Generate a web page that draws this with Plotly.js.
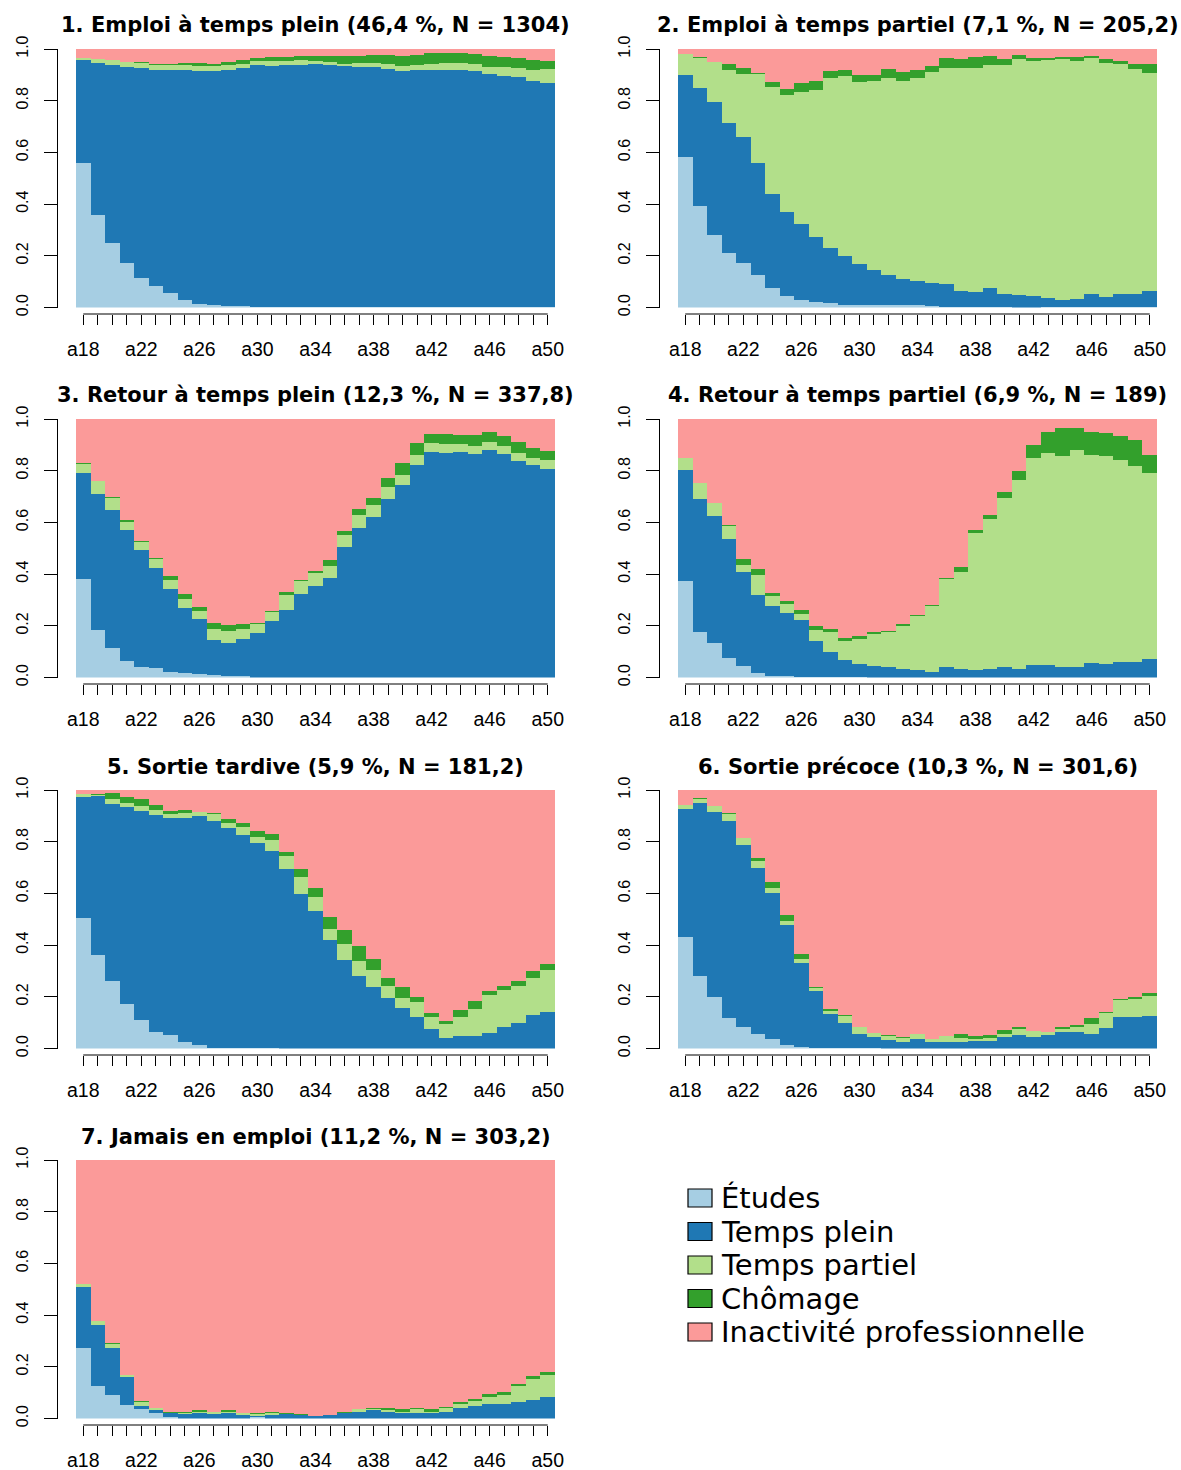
<!DOCTYPE html>
<html><head><meta charset="utf-8">
<script src="https://cdn.plot.ly/plotly-3.0.1.min.js"></script>
<style>body{margin:0;background:#fff}</style>
</head><body>
<div id="chart" style="width:1181px;height:1470px"></div>
<script>
const ages = ['a18','a19','a20','a21','a22','a23','a24','a25','a26','a27','a28','a29','a30','a31','a32','a33','a34','a35','a36','a37','a38','a39','a40','a41','a42','a43','a44','a45','a46','a47','a48','a49','a50'];
const shownAges = ['a18','a22','a26','a30','a34','a38','a42','a46','a50'];
const states = ['Études','Temps plein','Temps partiel','Chômage','Inactivité professionnelle'];
const stateColors = ['#A6CEE3','#1F78B4','#B2DF8A','#33A02C','#FB9A99'];
const titles = [
  '1. Emploi à temps plein (46,4 %, N = 1304)',
  '2. Emploi à temps partiel (7,1 %, N = 205,2)',
  '3. Retour à temps plein (12,3 %, N = 337,8)',
  '4. Retour à temps partiel (6,9 %, N = 189)',
  '5. Sortie tardive (5,9 %, N = 181,2)',
  '6. Sortie précoce (10,3 %, N = 301,6)',
  '7. Jamais en emploi (11,2 %, N = 303,2)'
];
const yTickVals = [0,0.2,0.4,0.6,0.8,1];
const yTickText = ['0.0','0.2','0.4','0.6','0.8','1.0'];

// 1. Emploi à temps plein
const p1_etudes  = [.559,.357,.249,.172,.114,.083,.055,.028,.013,.009,.005,.004,.002,.002,.003,.003,.002,.003,.002,.003,.003,.003,.002,.002,.002,.003,.003,.002,.003,.002,.003,.002,.003];
const p1_plein   = [.398,.589,.690,.758,.811,.836,.864,.891,.902,.906,.914,.922,.937,.933,.936,.936,.941,.936,.933,.929,.927,.920,.914,.917,.917,.916,.916,.914,.902,.895,.889,.875,.865];
const p1_partiel = [.009,.015,.018,.018,.021,.020,.020,.020,.019,.019,.020,.016,.015,.019,.015,.018,.011,.011,.007,.014,.016,.019,.018,.020,.024,.027,.027,.026,.027,.035,.034,.042,.055];
const p1_chomage = [0,.002,.002,.002,.004,.004,.004,.007,.012,.008,.011,.015,.011,.015,.015,.016,.019,.023,.031,.027,.031,.035,.039,.038,.042,.039,.039,.039,.042,.037,.039,.038,.031];
const p1_inactif = [.034,.037,.041,.050,.050,.057,.057,.054,.054,.058,.050,.043,.035,.031,.031,.027,.027,.027,.027,.027,.023,.023,.027,.023,.015,.015,.015,.019,.026,.031,.035,.043,.046];

// 2. Emploi à temps partiel
const p2_etudes  = [.582,.392,.280,.210,.172,.125,.075,.044,.028,.021,.017,.009,.008,.008,.008,.008,.008,.004,.003,.003,.003,.003,.003,0,0,.003,.003,.002,.003,.003,.002,.003,.002];
const p2_plein   = [.317,.457,.515,.504,.487,.434,.364,.325,.295,.251,.213,.190,.160,.137,.117,.102,.094,.090,.087,.060,.056,.072,.049,.048,.044,.033,.025,.030,.049,.037,.050,.049,.061];
const p2_partiel = [.082,.116,.155,.205,.244,.344,.414,.453,.511,.569,.658,.696,.704,.731,.763,.766,.786,.817,.836,.863,.867,.863,.886,.913,.910,.921,.932,.922,.913,.906,.890,.871,.844];
const p2_chomage = [0,.004,0,.023,.023,.004,.019,.023,.034,.035,.027,.024,.027,.023,.035,.035,.031,.023,.039,.035,.043,.035,.023,.016,.011,.008,.009,.015,.008,.015,.012,.019,.035];
const p2_inactif = [.019,.031,.050,.058,.074,.093,.128,.155,.132,.124,.085,.081,.101,.101,.077,.089,.081,.066,.035,.039,.031,.027,.039,.023,.035,.035,.031,.031,.027,.039,.046,.058,.058];

// 3. Retour à temps plein
const p3_etudes  = [.381,.184,.115,.064,.041,.037,.022,.018,.014,.010,.006,.006,0,0,0,0,0,0,0,0,0,0,0,0,0,0,0,0,0,0,0,0,0];
const p3_plein   = [.410,.526,.533,.507,.453,.387,.321,.251,.213,.136,.128,.143,.173,.219,.262,.323,.354,.385,.505,.579,.621,.691,.745,.822,.872,.869,.872,.865,.880,.865,.838,.822,.807];
const p3_partiel = [.035,.050,.047,.031,.030,.035,.035,.035,.031,.042,.046,.039,.034,.035,.058,.051,.051,.047,.047,.050,.047,.046,.039,.039,.035,.034,.031,.031,.031,.031,.031,.027,.034];
const p3_chomage = [.004,0,.003,.008,.004,.004,.015,.019,.015,.023,.024,.019,.004,.004,.011,.004,.007,.023,.015,.023,.027,.036,.046,.046,.035,.039,.035,.042,.039,.038,.042,.039,.035];
const p3_inactif = [.170,.240,.302,.390,.472,.537,.607,.677,.727,.789,.796,.793,.789,.742,.669,.622,.588,.545,.433,.348,.305,.227,.170,.093,.058,.058,.062,.062,.050,.066,.089,.112,.124];

// 4. Retour à temps partiel
const p4_etudes  = [.374,.177,.134,.076,.045,.018,.006,.006,.003,.003,.003,.003,.003,0,0,0,0,0,0,0,0,0,0,0,0,0,0,0,0,0,0,0,0];
const p4_plein   = [.429,.514,.491,.460,.364,.302,.271,.244,.220,.139,.096,.065,.050,.045,.041,.034,.030,.022,.041,.034,.030,.034,.041,.034,.049,.049,.041,.041,.057,.053,.061,.061,.072];
const p4_partiel = [.046,.062,.050,.050,.027,.077,.039,.034,.023,.042,.078,.074,.096,.124,.136,.166,.208,.255,.340,.375,.529,.579,.654,.730,.800,.820,.816,.839,.804,.804,.780,.757,.719];
const p4_chomage = [0,0,0,.004,.023,.023,.011,.012,.016,.016,.011,.011,.011,.008,.003,.008,.004,.004,.004,.019,.012,.016,.023,.035,.050,.081,.108,.085,.089,.089,.093,.101,.070];
const p4_inactif = [.151,.247,.325,.410,.541,.580,.673,.704,.738,.800,.812,.847,.840,.823,.820,.792,.758,.719,.615,.572,.429,.371,.282,.201,.101,.050,.035,.035,.050,.054,.066,.081,.139];

// 5. Sortie tardive
const p5_etudes  = [.503,.360,.263,.173,.111,.065,.053,.026,.014,.003,.003,.003,.003,.003,0,0,0,0,0,0,0,0,0,0,0,0,0,0,0,0,0,0,0];
const p5_plein   = [.470,.617,.683,.761,.807,.838,.838,.865,.885,.877,.850,.822,.791,.760,.693,.596,.530,.418,.344,.282,.239,.197,.158,.123,.076,.041,.049,.049,.061,.084,.100,.131,.142];
const p5_partiel = [.011,.004,.019,.016,.020,.019,.016,.020,.016,.027,.019,.031,.024,.043,.051,.066,.055,.046,.062,.058,.066,.046,.039,.058,.047,.055,.074,.105,.147,.144,.143,.143,.163];
const p5_chomage = [0,.003,.023,.023,.027,.020,.011,.011,0,.004,.015,.016,.023,.023,.015,.031,.035,.043,.051,.055,.043,.031,.042,.020,.015,.011,.027,.031,.016,.015,.020,.027,.020];
const p5_inactif = [.016,.016,.012,.027,.035,.058,.082,.078,.085,.089,.113,.128,.159,.171,.241,.307,.380,.493,.543,.605,.652,.726,.761,.799,.862,.893,.850,.815,.776,.757,.737,.699,.675];

// 6. Sortie précoce
const p6_etudes  = [.433,.282,.201,.119,.084,.057,.038,.014,.006,.003,.003,.003,.003,.003,0,0,0,0,0,0,0,0,0,0,0,0,0,0,0,0,0,0,0];
const p6_plein   = [.493,.668,.714,.761,.703,.640,.562,.462,.326,.221,.132,.097,.054,.042,.034,.026,.038,.026,.026,.026,.030,.030,.045,.053,.045,.053,.065,.065,.057,.080,.123,.123,.127];
const p6_partiel = [.016,.015,.023,.027,.027,.027,.021,.019,.016,.011,.011,.027,.027,.016,.015,.015,.019,.012,.023,.015,.008,.011,.012,.023,.024,.012,.011,.019,.039,.058,.066,.070,.077];
const p6_chomage = [0,.004,0,.004,0,.012,.022,.020,.019,.004,.008,.004,0,0,.004,.004,0,0,0,.016,.011,.012,.015,.008,0,0,.008,.008,.023,.004,.004,.008,.012];
const p6_inactif = [.058,.031,.062,.089,.186,.264,.357,.485,.633,.761,.846,.869,.916,.939,.947,.955,.943,.962,.951,.943,.951,.947,.928,.916,.931,.935,.916,.908,.881,.858,.807,.799,.784];

// 7. Jamais en emploi
const p7_etudes  = [.274,.124,.089,.054,.035,.023,.004,0,0,0,0,0,.004,0,0,0,0,0,0,0,0,0,0,0,0,0,0,0,0,0,0,0,0];
const p7_plein   = [.236,.239,.185,.108,.015,.008,.019,.019,.023,.019,.023,.015,.004,.012,.019,.012,.008,.012,.023,.027,.031,.027,.023,.023,.023,.027,.042,.050,.058,.058,.062,.073,.085];
const p7_partiel = [.011,.015,.016,.008,.012,.011,0,.004,.004,.008,.004,.008,.011,.008,0,0,0,0,0,.008,.004,.004,.004,.012,.004,.012,.015,.019,.027,.031,.065,.081,.085];
const p7_chomage = [0,0,.004,0,.004,0,.004,.004,.004,0,.004,0,.004,.004,.004,.004,0,0,.004,0,.004,.008,.008,.004,.008,.004,.008,.008,.008,.012,.008,.012,.008];
const p7_inactif = [.479,.622,.706,.830,.934,.958,.973,.973,.969,.973,.969,.977,.977,.976,.977,.984,.992,.988,.973,.965,.961,.961,.965,.961,.965,.957,.935,.923,.907,.899,.865,.834,.822];

const panels = [
  [p1_etudes,p1_plein,p1_partiel,p1_chomage,p1_inactif],
  [p2_etudes,p2_plein,p2_partiel,p2_chomage,p2_inactif],
  [p3_etudes,p3_plein,p3_partiel,p3_chomage,p3_inactif],
  [p4_etudes,p4_plein,p4_partiel,p4_chomage,p4_inactif],
  [p5_etudes,p5_plein,p5_partiel,p5_chomage,p5_inactif],
  [p6_etudes,p6_plein,p6_partiel,p6_chomage,p6_inactif],
  [p7_etudes,p7_plein,p7_partiel,p7_chomage,p7_inactif]
];

// layout geometry (pixels)
const W = 1181, H = 1470;
const colLeft = [76, 678], plotW = 479;
const rowTop = [49, 419, 790, 1160], plotH = 258.5;
const titleFont = {family:'DejaVu Sans, Liberation Sans, sans-serif', size:21, color:'#000'};
const legendRowY = [1198, 1231.5, 1265, 1298.5, 1332];

const data = [];
const layout = {
  width: W, height: H,
  margin: {l:0, r:0, t:0, b:0},
  paper_bgcolor: '#fff', plot_bgcolor: '#fff',
  barmode: 'stack', bargap: 0,
  showlegend: false,
  font: {family:'Liberation Sans, Arial, sans-serif', color:'#000'},
  annotations: [], shapes: []
};

panels.forEach((vals, k) => {
  const col = k % 2, row = Math.floor(k / 2);
  const sfx = k === 0 ? '' : String(k + 1);
  const left = colLeft[col], top = rowTop[row], bottom = top + plotH;
  const xAxisPos = 1 - (bottom + 6.5) / H;
  vals.forEach((v, s) => {
    data.push({
      type: 'bar', x: ages, y: v, name: states[s],
      marker: {color: stateColors[s], line: {width: 0}},
      xaxis: 'x' + sfx, yaxis: 'y' + sfx,
      hovertemplate: states[s] + ' %{x}: %{y}<extra></extra>'
    });
  });
  layout['xaxis' + sfx] = {
    domain: [left / W, (left + plotW) / W],
    type: 'category', range: [-0.5, ages.length - 0.5],
    anchor: 'free', position: xAxisPos,
    tickmode: 'array', tickvals: ages,
    ticktext: ages.map(a => shownAges.includes(a) ? a : ''),
    ticks: 'outside', ticklen: 10, tickwidth: 1, tickcolor: '#000',
    showline: false, showgrid: false, zeroline: false,
    tickfont: {size: 19.5, color: '#000'},
    ticklabelstandoff: 8, fixedrange: true
  };
  layout['yaxis' + sfx] = {
    domain: [1 - bottom / H, 1 - top / H],
    range: [0, 1],
    anchor: 'free', position: (left - 19) / W,
    tickmode: 'array', tickvals: yTickVals, ticktext: yTickText,
    tickangle: -90,
    ticks: 'outside', ticklen: 13, tickwidth: 1, tickcolor: '#000',
    showline: true, linecolor: '#000', linewidth: 1,
    showgrid: false, zeroline: false,
    tickfont: {size: 16, color: '#000'},
    ticklabelstandoff: 10, fixedrange: true
  };
  // x axis line spanning first to last tick (base-R style)
  layout.shapes.push({
    type: 'line', xref: 'x' + sfx, yref: 'paper',
    x0: 0, x1: ages.length - 1, y0: xAxisPos, y1: xAxisPos,
    line: {color: '#000', width: 1}
  });
  layout.annotations.push({
    text: '<b>' + titles[k] + '</b>', showarrow: false,
    xref: 'paper', yref: 'paper',
    x: (left + plotW / 2) / W, y: 1 - (top - 23.5) / H,
    xanchor: 'center', yanchor: 'middle',
    font: titleFont
  });
});

// legend (bottom-right empty slot)
states.forEach((st, s) => {
  const cy = legendRowY[s];
  layout.shapes.push({
    type: 'rect', xref: 'paper', yref: 'paper',
    x0: 688 / W, x1: 712 / W, y0: 1 - (cy + 9) / H, y1: 1 - (cy - 9) / H,
    fillcolor: stateColors[s], line: {color: '#000', width: 1.2}
  });
  layout.annotations.push({
    text: st, showarrow: false, xref: 'paper', yref: 'paper',
    x: 719 / W, y: 1 - cy / H, xanchor: 'left', yanchor: 'middle',
    font: {family: 'DejaVu Sans, Liberation Sans, sans-serif', size: 29, color: '#000'}
  });
});

Plotly.newPlot('chart', data, layout, {displayModeBar: false, staticPlot: true});
</script>
</body></html>
